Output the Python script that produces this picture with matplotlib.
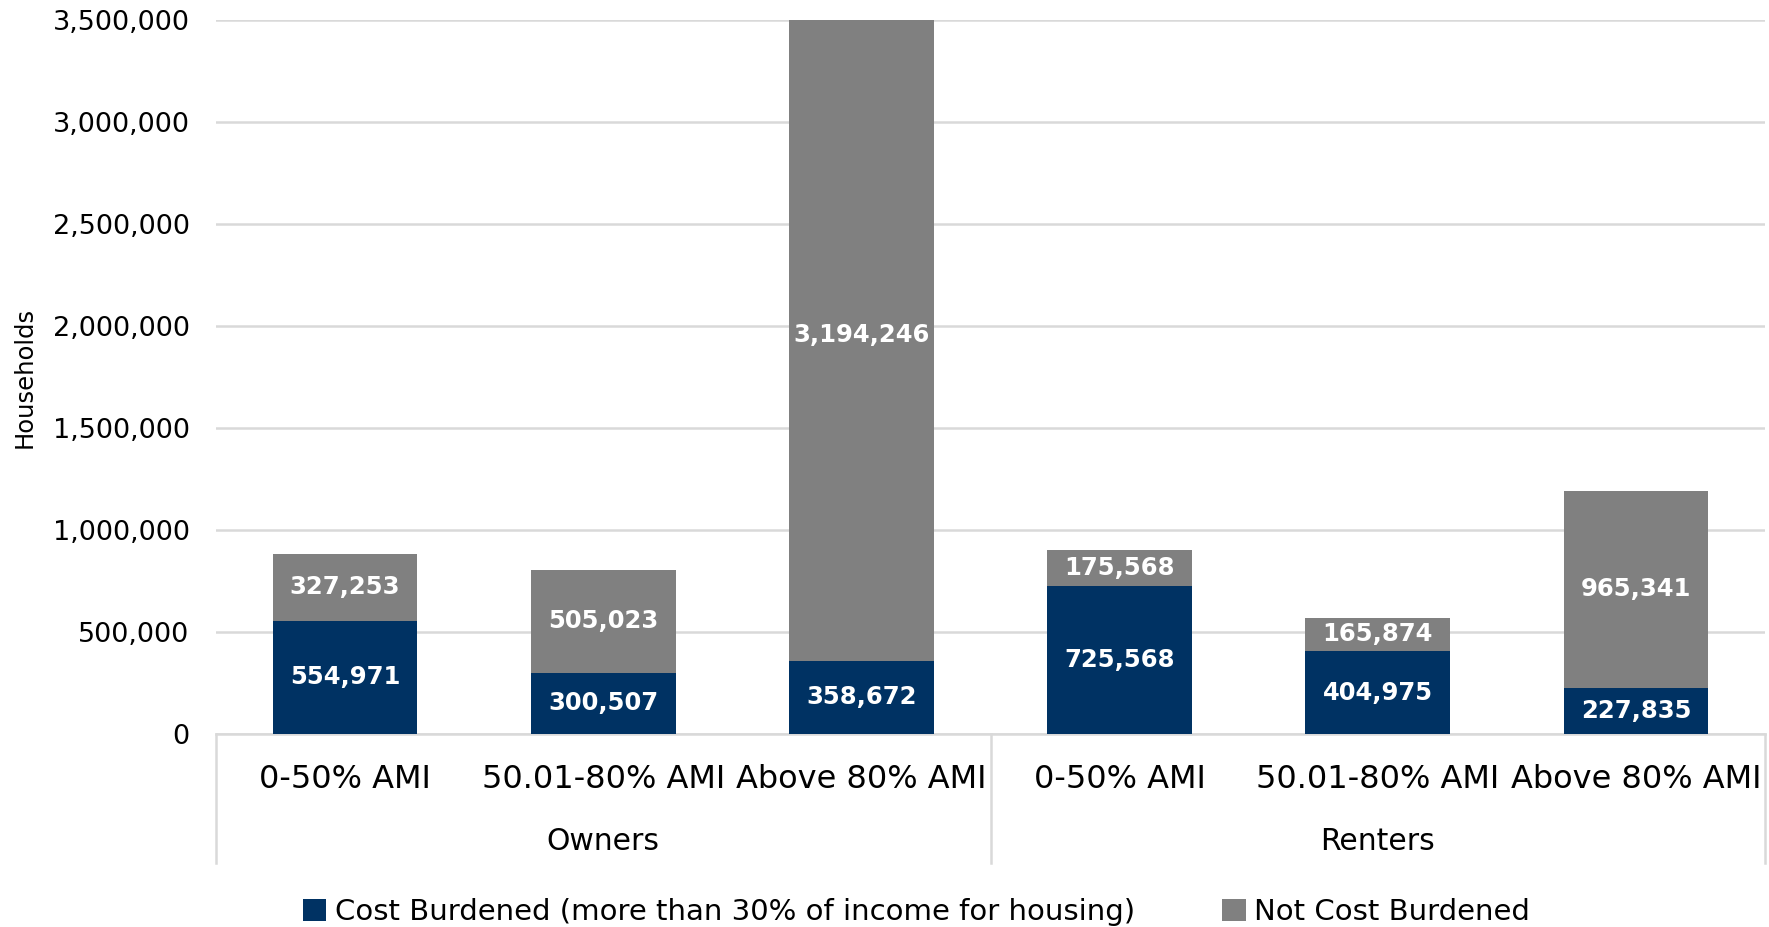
import matplotlib.pyplot as plt
import matplotlib.ticker as mticker
import numpy as np

# data
groups = ['Owners', 'Renters']
categories = ['0-50% AMI', '50.01-80% AMI', 'Above 80% AMI',
              '0-50% AMI', '50.01-80% AMI', 'Above 80% AMI']
cost_burdened = [554971, 300507, 358672, 725568, 404975, 227835]
not_burdened = [327253, 505023, 3194246, 175568, 165874, 965341]

navy = '#003263'
gray = '#808080'
grid_c = '#d9d9d9'

plt.rcParams['font.family'] = ['DejaVu Sans']

fig = plt.figure(figsize=(17.69, 9.27), dpi=100)
ax = fig.add_axes([216 / 1769, 1 - 734 / 927, (1765 - 216) / 1769, (734 - 20) / 927])

x = np.arange(len(categories))
w = 0.56
b1 = ax.bar(x, cost_burdened, w, color=navy, label='Cost Burdened (more than 30% of income for housing)', zorder=3)
b2 = ax.bar(x, not_burdened, w, bottom=cost_burdened, color=gray, label='Not Cost Burdened', zorder=3)

for i in range(len(categories)):
    ax.text(x[i], cost_burdened[i] / 2, f'{cost_burdened[i]:,}', ha='center', va='center',
            color='white', fontsize=17.5, fontweight='bold', zorder=4)
    ax.text(x[i], cost_burdened[i] + not_burdened[i] / 2, f'{not_burdened[i]:,}', ha='center', va='center',
            color='white', fontsize=17.5, fontweight='bold', zorder=4)

ax.set_xlim(-0.5, len(categories) - 0.5)
ax.set_ylim(0, 3500000)
ax.yaxis.set_major_locator(mticker.MultipleLocator(500000))
ax.yaxis.set_major_formatter(mticker.FuncFormatter(lambda v, p: f'{int(v):,}'))
ax.grid(axis='y', color=grid_c, lw=1.8, zorder=0)
ax.tick_params(axis='y', length=0, labelsize=19.5, pad=19)
ax.tick_params(axis='x', length=0)
ax.set_xticks([])
for s in ['top', 'right', 'left']:
    ax.spines[s].set_visible(False)
ax.spines['bottom'].set_color(grid_c)
ax.spines['bottom'].set_linewidth(1.8)
fig.text(25 / 1769, 1 - 377 / 927, 'Households', rotation=90, ha='center', va='center', fontsize=17.5)

tr = ax.get_xaxis_transform()
ax_h = 734 - 20
for i, c in enumerate(categories):
    ax.text(x[i], -(780 - 734) / ax_h, c, transform=tr, ha='center', va='center', fontsize=23)
for g, name in enumerate(groups):
    ax.text(1 + 3 * g, -(842 - 734) / ax_h, name, transform=tr, ha='center', va='center', fontsize=21.5)
for xs in [-0.5, 2.5, 5.5]:
    ax.plot([xs, xs], [0, -(863 - 734) / ax_h], transform=tr, color=grid_c, lw=1.8, clip_on=False)

fig.legend(handles=[b1, b2], loc='center', bbox_to_anchor=(0.518, 1 - 912 / 927), ncol=2,
           frameon=False, fontsize=21, handlelength=0.8, handleheight=0.8, handletextpad=0.3,
           columnspacing=3.0)

fig.savefig('out.png', dpi=100)
